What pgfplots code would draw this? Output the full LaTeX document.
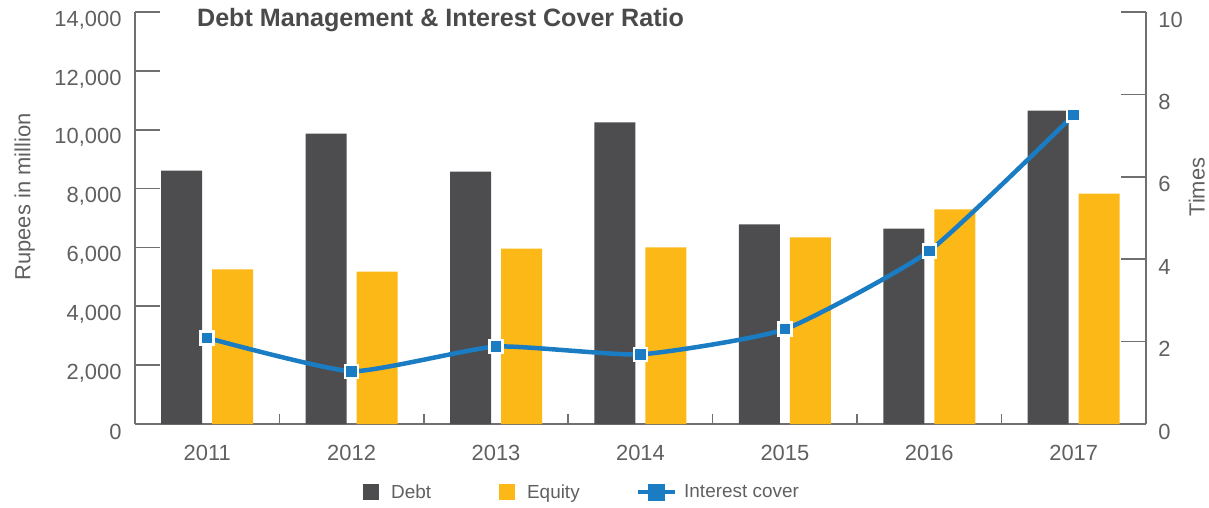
\documentclass[border=0pt]{standalone}
\usepackage{pgfplots}
\pgfplotsset{compat=1.18}
\usepackage{fontspec}
\setmainfont{Liberation Sans}
\definecolor{debtc}{HTML}{4D4D4F}
\definecolor{eqc}{HTML}{FBB817}
\definecolor{linec}{HTML}{1A7DC4}
\definecolor{axc}{HTML}{707070}
\definecolor{txtc}{HTML}{606060}
\definecolor{titc}{HTML}{4A4A4A}
\begin{document}
\begin{tikzpicture}
\path[use as bounding box] (-135bp,-84bp) rectangle (1074bp,424bp);
\begin{axis}[
  scale only axis, width=1011bp, height=412bp,
  xmin=-0.5, xmax=6.5, ymin=0, ymax=14000,
  axis x line*=bottom, axis y line*=left,
  axis line style={draw=axc, line width=1.6bp},
  tick align=inside, xtick align=inside, ytick align=inside,
  major tick length=25bp, minor tick length=10bp,
  tick style={draw=axc, line width=1.6bp},
  xtick={0,...,6}, xticklabels={2011,2012,2013,2014,2015,2016,2017},
  major x tick style={draw=none},
  minor xtick={0.5,1.5,2.5,3.5,4.5,5.5},
  minor x tick style={draw=none},
  ytick={0,2000,...,14000},
  scaled y ticks=false,
  /pgf/number format/1000 sep={,},
  /pgf/number format/assume math mode=true,
  yticklabel style={font=\fontsize{22}{26}\selectfont, text=txtc, xshift=-10bp, yshift=-8bp},
  xticklabel style={font=\fontsize{22}{26}\selectfont, text=txtc, yshift=-18bp},
  ylabel={Rupees in million},
  ylabel style={at={(axis description cs:-0.109,0.551)}, anchor=center, font=\fontsize{22}{26}\selectfont, text=txtc},
  title={Debt Management \& Interest Cover Ratio},
  title style={at={(axis description cs:0.0613,0.951)}, anchor=base west, inner sep=0pt, font=\fontsize{25.2}{29}\selectfont\bfseries, text=titc},
  legend style={at={(axis description cs:0.2255,-0.165)}, anchor=west, draw=none, fill=none, inner sep=0pt,
    font=\fontsize{19}{22}\selectfont, text=txtc,
    /tikz/every odd column/.append style={column sep=10bp},
    /tikz/every even column/.append style={column sep=66bp}},
  legend columns=3,
]
\addplot[ybar, bar width=41bp, bar shift=-25.5bp, fill=debtc, draw=none, legend image code/.code={\fill[debtc] (0bp,-8bp) rectangle (16bp,8bp);}]
  coordinates {(0,8610) (1,9870) (2,8580) (3,10250) (4,6780) (5,6640) (6,10650)};
\addplot[ybar, bar width=41bp, bar shift=25.5bp, fill=eqc, draw=none, legend image code/.code={\fill[eqc] (0bp,-8bp) rectangle (16bp,8bp);}]
  coordinates {(0,5250) (1,5180) (2,5960) (3,6000) (4,6340) (5,7290) (6,7830)};
\addlegendimage{legend image code/.code={\draw[linec, line width=4.5bp] (0bp,0bp) -- (37bp,0bp); \fill[linec] (10.5bp,-8bp) rectangle (26.5bp,8bp);}}
\legend{Debt, Equity\hspace*{-12bp}, \hspace*{-5bp}Interest cover}
% category separator ticks on the bottom axis (pointing up, 10bp)
\addplot[ycomb, draw=axc, line width=1.6bp, mark=none, forget plot]
  coordinates {(0.5,340) (1.5,340) (2.5,340) (3.5,340) (4.5,340) (5.5,340)};
\end{axis}
\begin{axis}[
  scale only axis, width=1011bp, height=412bp,
  xmin=-0.5, xmax=6.5, ymin=0, ymax=10,
  axis x line=none, xtick=\empty,
  axis y line*=right,
  axis line style={draw=axc, line width=1.6bp},
  tick align=inside, ytick align=inside,
  major tick length=25bp,
  tick style={draw=axc, line width=1.6bp},
  ytick={0,2,...,10},
  /pgf/number format/assume math mode=true,
  yticklabel style={font=\fontsize{22}{26}\selectfont, text=txtc, xshift=9bp, yshift=-7.5bp},
  ylabel={Times},
  ylabel style={at={(axis description cs:1.0504,0.575)}, anchor=center, font=\fontsize{22}{26}\selectfont, text=txtc},
]
\addplot[linec, line width=4.5bp, smooth, tension=0.3, mark=square*, mark size=6.5bp,
  mark options={fill=linec, draw=white, line width=2.5bp, solid}]
  coordinates {(0,2.09) (1,1.28) (2,1.88) (3,1.69) (4,2.30) (5,4.20) (6,7.50)};
\end{axis}
\end{tikzpicture}
\end{document}
